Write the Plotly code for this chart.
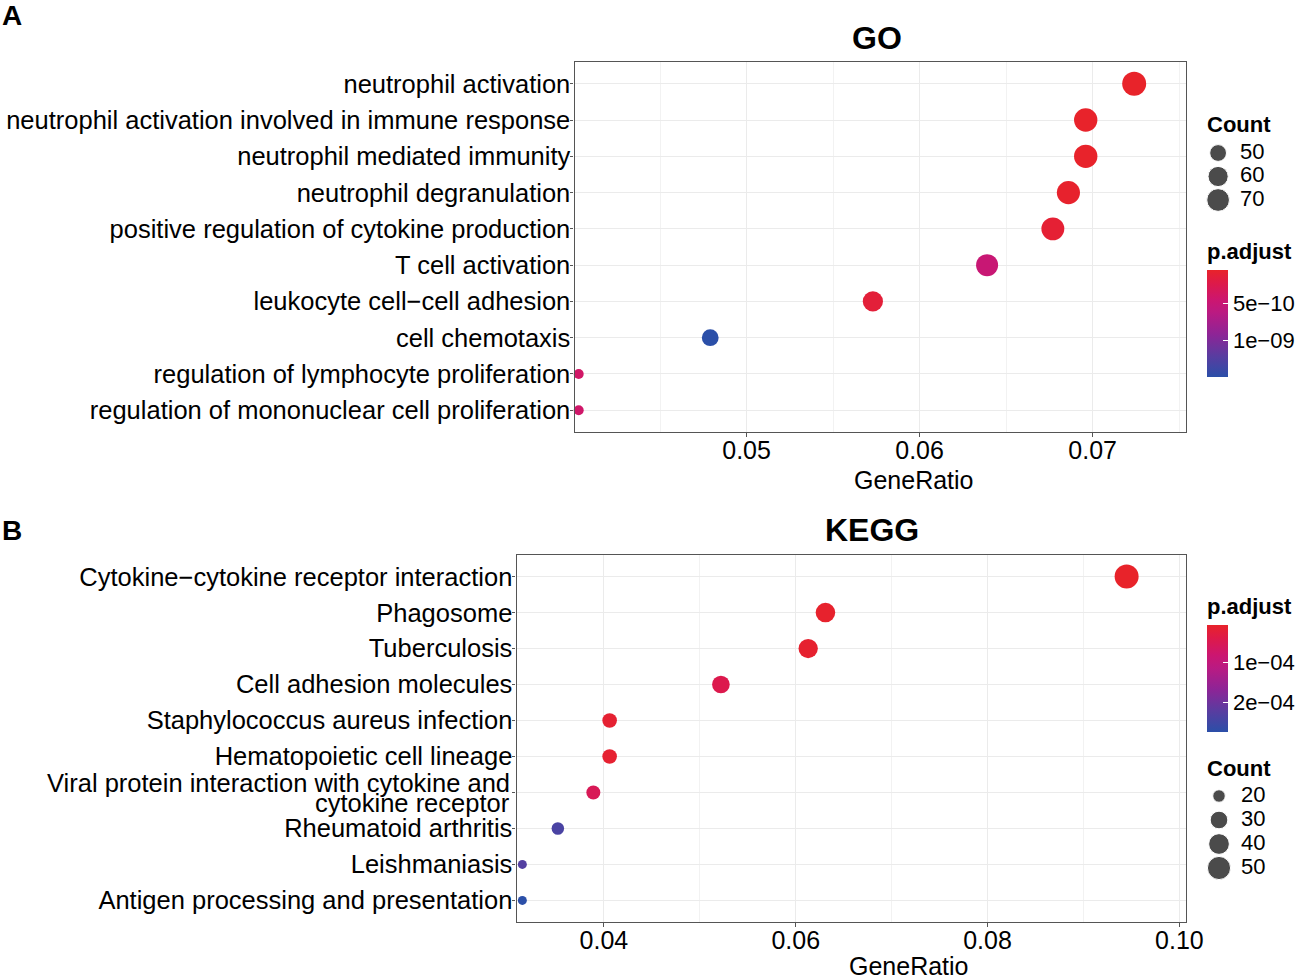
import plotly.graph_objects as go

# ---- data ----
go_terms = [
    "neutrophil activation",
    "neutrophil activation involved in immune response",
    "neutrophil mediated immunity",
    "neutrophil degranulation",
    "positive regulation of cytokine production",
    "T cell activation",
    "leukocyte cell−cell adhesion",
    "cell chemotaxis",
    "regulation of lymphocyte proliferation",
    "regulation of mononuclear cell proliferation",
]
go_ratio = [0.0724, 0.0696, 0.0696, 0.0686, 0.0677, 0.0639, 0.0573, 0.0479, 0.0403, 0.0403]
go_count = [76, 73, 73, 72, 71, 67, 60, 50, 42, 42]
go_padj = [5.4e-11, 6.0e-11, 6.2e-11, 7.0e-11, 1.1e-10, 5.0e-10, 1.4e-10, 1.5e-09, 4.0e-10, 4.2e-10]

kegg_terms = [
    "Cytokine−cytokine receptor interaction",
    "Phagosome",
    "Tuberculosis",
    "Cell adhesion molecules",
    "Staphylococcus aureus infection",
    "Hematopoietic cell lineage",
    "Viral protein interaction with cytokine and cytokine receptor",
    "Rheumatoid arthritis",
    "Leishmaniasis",
    "Antigen processing and presentation",
]
# the long KEGG term is wrapped on two lines in the figure
wrapped = {"Viral protein interaction with cytokine and cytokine receptor":
           ["Viral protein interaction with cytokine and", "cytokine receptor"]}
kegg_ratio = [0.0945, 0.0631, 0.0613, 0.0522, 0.0406, 0.0406, 0.0389, 0.0352, 0.0315, 0.0315]
kegg_count = [54, 36, 35, 30, 23, 23, 22, 20, 18, 18]
kegg_padj = [7.5e-06, 1.1e-05, 1.3e-05, 4.5e-05, 1.6e-05, 1.5e-05, 5.5e-05, 2.4e-04, 2.3e-04, 2.75e-04]

go_count_breaks = [50, 60, 70]
kegg_count_breaks = [20, 30, 40, 50]
go_padj_ticks = [5e-10, 1e-09]
go_padj_labels = ["5e−10", "1e−09"]
kegg_padj_ticks = [1e-04, 2e-04]
kegg_padj_labels = ["1e−04", "2e−04"]

W, H = 1299, 976
FONT = "Liberation Sans, Arial, sans-serif"
LABEL_SIZE = 25.5


def px(x):
    return x / W


def py(y):
    return 1 - y / H


def dot_size(counts, lo, hi, dmin, dmax):
    # ggplot-like area scale
    return [dmin + ((c - lo) / (hi - lo)) ** 0.5 * (dmax - dmin) for c in counts]


# bottom (high p.adjust) = blue, top (low p.adjust) = red
padj_scale = [
    [0.0, "#2B4FA8"],
    [0.2, "#5A3CA0"],
    [0.4, "#8E2496"],
    [0.6, "#BA1A82"],
    [0.72, "#CC1670"],
    [0.88, "#DE1A48"],
    [1.0, "#E8232A"],
]

fig = go.Figure()

go_lo, go_hi = min(go_count), max(go_count)
kg_lo, kg_hi = min(kegg_count), max(kegg_count)

fig.add_trace(go.Scatter(
    x=go_ratio, y=go_terms, mode="markers", xaxis="x", yaxis="y",
    marker=dict(size=dot_size(go_count, go_lo, go_hi, 10, 24),
                color=[-p for p in go_padj], coloraxis="coloraxis",
                line_width=0, opacity=1),
    showlegend=False, cliponaxis=False,
))
fig.add_trace(go.Scatter(
    x=kegg_ratio, y=kegg_terms, mode="markers", xaxis="x2", yaxis="y2",
    marker=dict(size=dot_size(kegg_count, kg_lo, kg_hi, 9, 24),
                color=[-p for p in kegg_padj], coloraxis="coloraxis2",
                line_width=0, opacity=1),
    showlegend=False, cliponaxis=False,
))

# size legends
fig.add_trace(go.Scatter(
    x=[0.156] * len(go_count_breaks), y=list(range(len(go_count_breaks))),
    mode="markers", xaxis="x3", yaxis="y3",
    marker=dict(size=dot_size(go_count_breaks, go_lo, go_hi, 10, 24), color="black"),
    showlegend=False, hoverinfo="skip", cliponaxis=False,
))
fig.add_trace(go.Scatter(
    x=[0.40] * len(go_count_breaks), y=list(range(len(go_count_breaks))),
    mode="text", text=[str(c) for c in go_count_breaks], textposition="middle right",
    textfont=dict(size=22, color="black", family=FONT), xaxis="x3", yaxis="y3",
    showlegend=False, hoverinfo="skip", cliponaxis=False,
))
fig.add_trace(go.Scatter(
    x=[0.166] * len(kegg_count_breaks), y=list(range(len(kegg_count_breaks))),
    mode="markers", xaxis="x4", yaxis="y4",
    marker=dict(size=dot_size(kegg_count_breaks, kg_lo, kg_hi, 9, 24), color="black"),
    showlegend=False, hoverinfo="skip", cliponaxis=False,
))
fig.add_trace(go.Scatter(
    x=[0.41] * len(kegg_count_breaks), y=list(range(len(kegg_count_breaks))),
    mode="text", text=[str(c) for c in kegg_count_breaks], textposition="middle right",
    textfont=dict(size=22, color="black", family=FONT), xaxis="x4", yaxis="y4",
    showlegend=False, hoverinfo="skip", cliponaxis=False,
))

grid = "#EBEBEB"
border = "#555555"
common_x = dict(showline=True, mirror=True, linecolor=border, linewidth=1.3,
                showgrid=True, gridcolor=grid, gridwidth=1.3, zeroline=False,
                ticks="outside", ticklen=4, tickcolor=border, ticklabelstandoff=-8,
                tickfont=dict(size=25, color="black", family=FONT),
                tickformat=".2f", automargin=False)
common_y = dict(showline=True, mirror=True, linecolor=border, linewidth=1.3,
                showgrid=True, gridcolor=grid, gridwidth=1.3, zeroline=False,
                ticks="outside", ticklen=3, tickcolor=border, ticklabelstandoff=-5,
                tickfont=dict(size=LABEL_SIZE, color="black", family=FONT),
                type="category", categoryorder="array", automargin=False)
hidden = dict(visible=False, range=[0, 1], fixedrange=True)

fig.update_layout(
    width=W, height=H,
    margin=dict(l=0, r=0, t=0, b=0),
    paper_bgcolor="white", plot_bgcolor="white",
    font=dict(family=FONT, color="black"),
    xaxis=dict(common_x, domain=[px(575), px(1187)], anchor="y",
               range=[0.04006, 0.0754], tick0=0.05, dtick=0.01,
               minor=dict(dtick=0.005, showgrid=True, gridcolor="#F2F2F2", gridwidth=0.8)),
    yaxis=dict(common_y, domain=[py(432), py(62)], anchor="x",
               categoryarray=go_terms[::-1], range=[-0.6, len(go_terms) - 0.4]),
    xaxis2=dict(common_x, domain=[px(517), px(1187)], anchor="y2",
                range=[0.0309, 0.1007], tick0=0, dtick=0.02,
                minor=dict(dtick=0.01, showgrid=True, gridcolor="#F2F2F2", gridwidth=0.8)),
    yaxis2=dict(common_y, domain=[py(922), py(555)], anchor="x2",
                categoryarray=kegg_terms[::-1], range=[-0.6, len(kegg_terms) - 0.4],
                tickmode="array", tickvals=kegg_terms,
                ticktext=["" if t in wrapped else t for t in kegg_terms]),
    xaxis3=dict(hidden, domain=[px(1205), px(1295)], anchor="y3"),
    yaxis3=dict(visible=False, fixedrange=True, domain=[py(211.75), py(141.25)],
                anchor="x3", range=[len(go_count_breaks) - 0.5, -0.5]),
    xaxis4=dict(hidden, domain=[px(1205), px(1295)], anchor="y4"),
    yaxis4=dict(visible=False, fixedrange=True, domain=[py(880), py(784)],
                anchor="x4", range=[len(kegg_count_breaks) - 0.5, -0.5]),
    coloraxis=dict(
        colorscale=padj_scale, cmin=-max(go_padj), cmax=-min(go_padj),
        colorbar=dict(x=px(1207), xanchor="left", xpad=0, y=py(323.5), yanchor="middle",
                      ypad=0, len=107, lenmode="pixels", thickness=21, outlinewidth=0,
                      tickvals=[-v for v in go_padj_ticks], ticktext=go_padj_labels,
                      ticks="inside", ticklen=5, tickcolor="white", tickwidth=1.2,
                      tickfont=dict(size=22, color="black", family=FONT)),
    ),
    coloraxis2=dict(
        colorscale=padj_scale, cmin=-max(kegg_padj), cmax=-min(kegg_padj),
        colorbar=dict(x=px(1207), xanchor="left", xpad=0, y=py(678.5), yanchor="middle",
                      ypad=0, len=107, lenmode="pixels", thickness=21, outlinewidth=0,
                      tickvals=[-v for v in kegg_padj_ticks], ticktext=kegg_padj_labels,
                      ticks="inside", ticklen=5, tickcolor="white", tickwidth=1.2,
                      tickfont=dict(size=22, color="black", family=FONT)),
    ),
)

# two-line KEGG label, lines set tight like the original
for term, lines in wrapped.items():
    for k, line in enumerate(lines):
        fig.add_annotation(text=line, x=px(512), xref="paper", y=term, yref="y2",
                           xanchor="right", yanchor="middle", yshift=9 - 20 * k,
                           showarrow=False,
                           font=dict(size=LABEL_SIZE, color="black", family=FONT))

notes = [
    dict(text="<b>A</b>", x=px(0), y=py(15), size=28, xanchor="left"),
    dict(text="<b>B</b>", x=px(0), y=py(530), size=28, xanchor="left"),
    dict(text="<b>GO</b>", x=px(878), y=py(38), size=32, xanchor="center"),
    dict(text="<b>KEGG</b>", x=px(873), y=py(530), size=32, xanchor="center"),
    dict(text="GeneRatio", x=px(915), y=py(480), size=25, xanchor="center"),
    dict(text="GeneRatio", x=px(910), y=py(966), size=25, xanchor="center"),
    dict(text="<b>Count</b>", x=px(1206), y=py(125), size=22, xanchor="left"),
    dict(text="<b>p.adjust</b>", x=px(1206), y=py(251), size=22, xanchor="left"),
    dict(text="<b>p.adjust</b>", x=px(1206), y=py(606), size=22, xanchor="left"),
    dict(text="<b>Count</b>", x=px(1206), y=py(768), size=22, xanchor="left"),
]
for n in notes:
    fig.add_annotation(text=n["text"], x=n["x"], y=n["y"], xref="paper", yref="paper",
                       xanchor=n["xanchor"], yanchor="middle", showarrow=False,
                       font=dict(size=n["size"], color="black", family=FONT))

# page body has a default 8px margin; drop it so the figure sits at 0,0
fig.write_html("out.html", config={"displayModeBar": False},
               post_script="document.body.style.margin='0px';")
